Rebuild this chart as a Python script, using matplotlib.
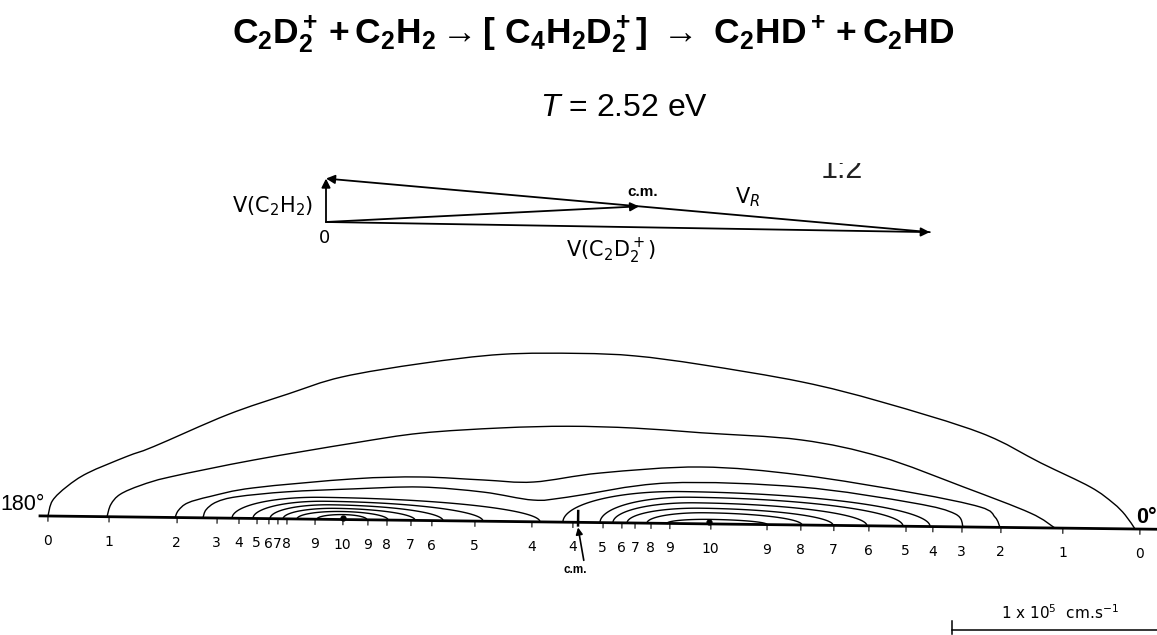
import numpy as np
import matplotlib.pyplot as plt
from matplotlib.path import Path
from matplotlib.patches import PathPatch
from matplotlib.transforms import Affine2D, Bbox

plt.rcParams['font.family'] = ['Liberation Sans', 'DejaVu Sans']
plt.rcParams['mathtext.fontset'] = 'custom'
plt.rcParams['mathtext.rm'] = 'Liberation Sans'
plt.rcParams['mathtext.it'] = 'Liberation Sans:italic'
plt.rcParams['mathtext.bf'] = 'Liberation Sans:bold'

# Newton diagram, lab frame (1e5 cm/s)
m_ion, m_neu = 28, 26
v_ion = np.array([4.17, -0.07])   # V(C2D2+)
v_neu = np.array([0.00, 0.30])    # V(C2H2)

# contour map, c.m. frame (1e4 cm/s), levels 0..3 sampled along the line
lvl0_u = [-25.71, -25.50, -24.80, -23.80, -21.90, -20.59, -17.00, -14.05, -11.46, -7.56,
          -3.66, 0.10, 2.83, 6.10, 10.98, 14.88, 19.76, 22.68, 25.12, 26.24, 26.83, 27.32]
lvl0_v = [0, 0.75, 1.45, 2.12, 2.95, 3.45, 5.05, 6.10, 6.95, 7.66,
          8.15, 8.24, 8.15, 7.76, 6.98, 6.05, 4.59, 3.17, 2.02, 1.25, 0.68, 0]
lvl1_u = [-22.83, -22.65, -22.20, -21.20, -19.76, -15.71, -10.83, -7.56, -3.66, -0.39,
          2.83, 6.10, 10.98, 14.88, 18.93, 22.20, 23.41]
lvl1_v = [0, 0.60, 1.10, 1.55, 1.98, 2.85, 3.74, 4.26, 4.56, 4.68,
          4.63, 4.44, 4.15, 3.37, 1.95, 0.72, 0]
lvl2_u = [-19.51, -19.35, -18.90, -17.80, -15.71, -10.83, -7.56, -4.49, -2.05, 1.22,
          6.10, 10.98, 16.49, 19.76, 20.49, 20.73]
lvl2_v = [0, 0.35, 0.72, 1.05, 1.49, 1.99, 2.12, 2.01, 1.94, 2.42,
          2.77, 2.44, 1.63, 0.98, 0.49, 0]
lvl3_u = [-18.15, -18.00, -17.50, -16.50, -14.05, -10.83, -7.56, -4.49, -2.05, -0.39,
          4.49, 10.98, 16.49, 18.54, 18.93]
lvl3_v = [0, 0.40, 0.78, 1.05, 1.32, 1.50, 1.63, 1.42, 1.06, 1.22,
          1.97, 1.85, 1.14, 0.63, 0]

# levels 4..9: two islands -> left crossing, right crossing, position of max, height
isl_left = [-16.73, -15.71, -14.88, -14.24, -13.56, -12.59,
            -0.59, 1.22, 1.85, 2.54, 3.51, 4.49]
isl_right = [-1.71, -4.49, -6.44, -7.80, -9.12, -10.15,
             17.32, 16.00, 14.24, 12.59, 11.07, 9.37]
isl_peak = [-12.44, -12.20, -11.95, -11.71, -11.46, -11.32,
            5.12, 5.61, 5.85, 6.10, 6.34, 6.54]
isl_height = [1.07, 0.88, 0.71, 0.54, 0.39, 0.24,
              1.56, 1.29, 1.02, 0.76, 0.54, 0.22]
max_u = [-11.32, 6.54]   # level 10

tick_u = [-25.71, -22.73, -19.41, -17.46, -16.39, -15.51, -14.93, -14.49, -14.05, -12.68,
          -11.32, -10.10, -9.17, -8.00, -6.98, -4.88, -2.10, -0.10, 1.37, 2.29,
          2.93, 3.71, 4.63, 6.63, 9.37, 11.02, 12.63, 14.34, 16.15, 17.46,
          18.88, 20.78, 23.80, 27.56]
tick_lab = ['0', '1', '2', '3', '4', '5', '6', '7', '8', '9',
            '10', '9', '8', '7', '6', '5', '4', '4', '5', '6',
            '7', '8', '9', '10', '9', '8', '7', '6', '5', '4',
            '3', '2', '1', '0']


def smooth_path(u, v):
    # Catmull-Rom through the read points, drawn as cubic Bezier segments
    P = np.column_stack([u, v]).astype(float)
    n = len(P)
    verts, codes = [P[0]], [Path.MOVETO]
    for i in range(n - 1):
        p0 = P[i - 1] if i > 0 else P[i]
        p1, p2 = P[i], P[i + 1]
        p3 = P[i + 2] if i + 2 < n else P[i + 1]
        verts += [p1 + (p2 - p0) / 6, p2 - (p3 - p1) / 6, p2]
        codes += [Path.CURVE4] * 3
    return Path(verts, codes)


fig = plt.figure(figsize=(11.57, 6.35), dpi=100)

# ---- contour map ----
ax = fig.add_axes([0, 0, 1, 1])
ax.set_xlim(-28.049, 28.390)
ax.set_ylim(-5.498, 25.478)
ax.axis('off')
tr = ax.transData + Affine2D().rotate_deg_around(575, 112.7, -0.685)

lw = 1.0
for u, v in [(lvl0_u, lvl0_v), (lvl1_u, lvl1_v), (lvl2_u, lvl2_v), (lvl3_u, lvl3_v)]:
    ax.add_patch(PathPatch(smooth_path(u, v), fill=False, edgecolor='k', lw=lw, transform=tr))

t = np.linspace(0, np.pi, 121)
for a, b, p, h in zip(isl_left, isl_right, isl_peak, isl_height):
    x = np.where(t < np.pi / 2, p - (p - a) * np.cos(t), p - (b - p) * np.cos(t))
    ax.plot(x, h * np.sin(t), color='k', lw=lw, transform=tr)

ax.plot(max_u, [0.08, 0.08], 'o', color='k', ms=3.5, transform=tr)
ax.plot([-26.1, 28.6], [0, 0], color='k', lw=2.0, transform=tr)
for u, lab in zip(tick_u, tick_lab):
    ax.plot([u, u], [0, -0.25], color='k', lw=0.8, transform=tr)
    ax.text(u, -1.22, lab, ha='center', va='center', fontsize=10,
            family='DejaVu Sans', transform=tr)

ax.text(-25.85, 0.05, '180°', ha='right', va='bottom', fontsize=15.5,
        family=['Liberation Sans Narrow', 'Liberation Sans'], transform=tr)
ax.text(28.39, 0.05, '0°', ha='right', va='bottom', fontsize=15.5, weight='bold',
        family=['Liberation Sans Narrow', 'Liberation Sans'], transform=tr)

# c.m. marker
ax.plot([0.15, 0.15], [-0.15, 0.55], color='k', lw=1.8, transform=tr)
ax.annotate('', xy=(0.15, -0.25), xycoords=tr, xytext=(0.45, -1.85), textcoords=tr,
            arrowprops=dict(arrowstyle='-|>', color='k', lw=1.2, mutation_scale=10,
                            shrinkA=0, shrinkB=0))
ax.text(0.05, -2.35, 'c.m.', ha='center', va='center', fontsize=8.5, weight='bold',
        transform=tr)

# scale bar
ax.plot([18.39, 28.6], [-5.25, -5.25], color='k', lw=1.1)
ax.plot([18.39, 18.39], [-4.8, -5.45], color='k', lw=1.1)
ax.text(23.66, -4.40, r'1 x 10$^5$  cm.s$^{-1}$', ha='center', va='center',
        fontsize=11, family='DejaVu Sans', math_fontfamily='dejavusans')

# ---- Newton diagram ----
ax2 = fig.add_axes([0, 0, 1, 1])
ax2.set_xlim(-2.2514, 5.7390)
ax2.set_ylim(-2.8522, 1.5331)
ax2.axis('off')
ax2.patch.set_alpha(0)

v_cm = (m_ion * v_ion + m_neu * v_neu) / (m_ion + m_neu)
origin = np.zeros(2)
arrow_kw = dict(arrowstyle='-|>', color='k', lw=1.3, mutation_scale=13, shrinkA=0, shrinkB=0)
for tail, tip in [(origin, v_ion), (origin, v_neu), (origin, v_cm), (v_ion, v_neu)]:
    ax2.annotate('', xy=tip, xytext=tail, arrowprops=arrow_kw)

lab_kw = dict(fontsize=15, family='DejaVu Sans', math_fontfamily='dejavusans')
ax2.text(-0.09, 0.11, r'V(C$_2$H$_2$)', ha='right', va='center', **lab_kw)
ax2.text(-0.01, -0.11, '0', ha='center', va='center', fontsize=13, family='DejaVu Sans')
ax2.text(1.97, -0.20, r'V(C$_2$D$_2^+$)', ha='center', va='center', **lab_kw)
ax2.text(2.19, 0.21, 'c.m.', ha='center', va='center', fontsize=11, weight='bold')
ax2.text(2.91, 0.17, r'V$_R$', ha='center', va='center', **lab_kw)

# ---- titles ----
fig.text(0.513, 1 - 35 / 635,
         r'$\mathbf{C_2D_2^+ + C_2H_2 \rightarrow[\ C_4H_2D_2^+]\ \rightarrow\ C_2HD^+ + C_2HD}$',
         ha='center', va='center', fontsize=25.5)
fig.text(624 / 1157, 1 - 108 / 635, r'$\mathit{T}$ = 2.52 eV', ha='center', va='center',
         fontsize=23)
ratio = fig.text(842 / 1157, 1 - 170 / 635, '1:2', ha='center', va='center', fontsize=22,
                 color='#222222')
ratio.set_clip_box(Bbox.from_extents(0, 0, 1157, 635 - 163))
ratio.set_clip_on(True)

fig.savefig('out.png', dpi=100, facecolor='white')
